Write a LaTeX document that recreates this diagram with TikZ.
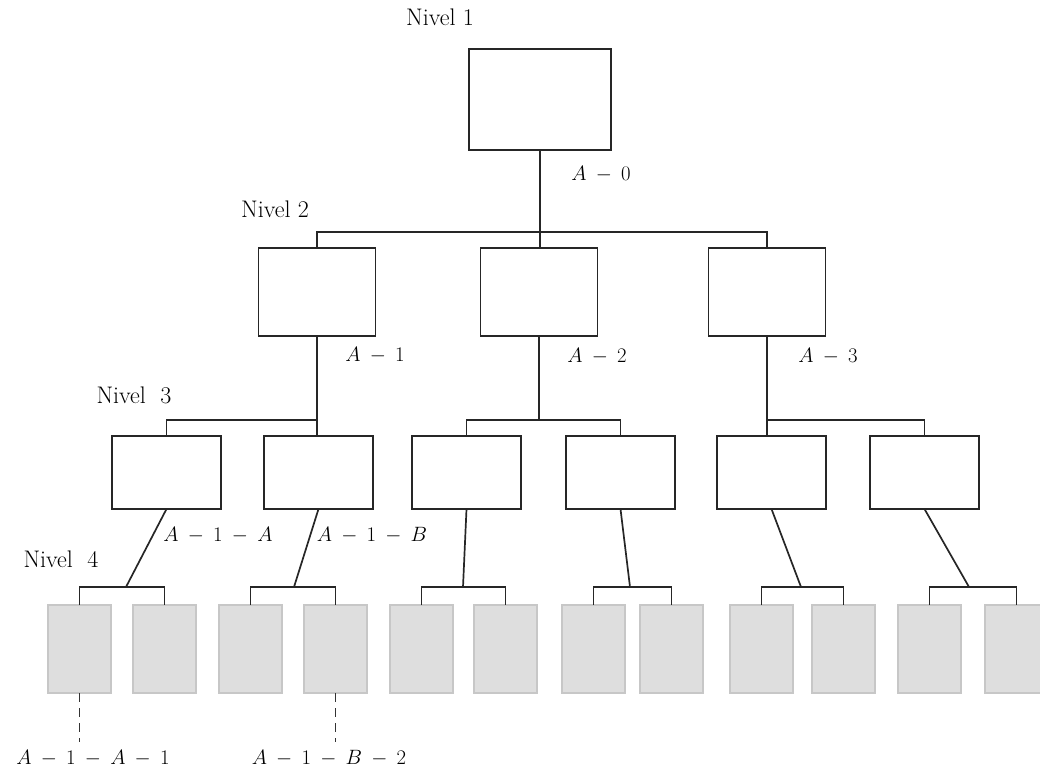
\documentclass[tikz,border=0pt]{standalone}
\newcommand{\mylab}[1]{$\medmuskip=8mu #1$}
\tikzset{
  conn/.style={line width=1.7pt, draw=black!85},
  rbox/.style={draw=black!85, line width=1.7pt, fill=white, rectangle, inner sep=0pt, outer sep=0pt},
  leaf/.style={draw=black!22, line width=1.2pt, fill=black!13, rectangle, inner sep=0pt, outer sep=0pt, minimum width=63pt, minimum height=88pt},
  lbl/.style={inner sep=0pt, font=\fontsize{22}{26}\selectfont},
  lvl/.style={inner sep=0pt, font=\fontsize{24}{28}\selectfont},
  dashline/.style={line width=1.4pt, draw=black!80, dash pattern=on 9pt off 6pt},
}
\begin{document}
\begin{tikzpicture}[x=1pt,y=-1pt]
\useasboundingbox (0,0) rectangle (1040,773);
\clip (0,0) rectangle (1040,773);
% Level 1
\node[rbox, minimum width=142pt, minimum height=101pt] (n1) at (540,99.5) {};
% Level 2
\node[rbox, minimum width=117pt, minimum height=88pt] (n2a) at (317,292) {};
\node[rbox, minimum width=117pt, minimum height=88pt] (n2b) at (539,292) {};
\node[rbox, minimum width=117pt, minimum height=88pt] (n2c) at (767,292) {};
% Level 3
\node[rbox, minimum width=109pt, minimum height=73pt] (n3a) at (166.5,472.5) {};
\node[rbox, minimum width=109pt, minimum height=73pt] (n3b) at (318.5,472.5) {};
\node[rbox, minimum width=109pt, minimum height=73pt] (n3c) at (466.5,472.5) {};
\node[rbox, minimum width=109pt, minimum height=73pt] (n3d) at (620.5,472.5) {};
\node[rbox, minimum width=109pt, minimum height=73pt] (n3e) at (771.5,472.5) {};
\node[rbox, minimum width=109pt, minimum height=73pt] (n3f) at (924.5,472.5) {};
% Level 4
\node[leaf] (l1) at (79.5,649) {};
\node[leaf] (l2) at (164.5,649) {};
\node[leaf] (l3) at (250.5,649) {};
\node[leaf] (l4) at (335.5,649) {};
\node[leaf] (l5) at (421.5,649) {};
\node[leaf] (l6) at (505.5,649) {};
\node[leaf] (l7) at (593.5,649) {};
\node[leaf] (l8) at (671.5,649) {};
\node[leaf] (l9) at (761.5,649) {};
\node[leaf] (l10) at (843.5,649) {};
\node[leaf] (l11) at (929.5,649) {};
\node[leaf] (l12) at (1016.5,649) {};

% bus coordinates
\coordinate (b1) at (540,232);
\coordinate (b2a) at (317,420);
\coordinate (b2b) at (539,420);
\coordinate (b2c) at (767,420);
\coordinate (j1) at (126,587);
\coordinate (j2) at (294,587);
\coordinate (j3) at (463,587);
\coordinate (j4) at (630,587);
\coordinate (j5) at (801,587);
\coordinate (j6) at (969,587);

% Level 1 -> 2
\draw[conn] (n1.south) -- (b1);
\draw[conn] (n2a.north) -- (n2a.north |- b1) -- (n2c.north |- b1) -- (n2c.north);
\draw[conn] (b1) -- (b1 |- n2b.north);
% Level 2 -> 3
\draw[conn] (n2a.south) -- (n3b.north -| b2a);
\draw[conn] (n3a.north) -- (n3a.north |- b2a) -- (b2a);
\draw[conn] (n2b.south) -- (b2b);
\draw[conn] (n3c.north) -- (n3c.north |- b2b) -- (n3d.north |- b2b) -- (n3d.north);
\draw[conn] (n2c.south) -- (n3e.north -| b2c);
\draw[conn] (b2c) -- (n3f.north |- b2c) -- (n3f.north);
% Level 3 -> 4
\draw[conn] (n3a.south) -- (j1);
\draw[conn] (l1.north) -- (l1.north |- j1) -- (l2.north |- j1) -- (l2.north);
\draw[conn] (n3b.south) -- (j2);
\draw[conn] (l3.north) -- (l3.north |- j2) -- (l4.north |- j2) -- (l4.north);
\draw[conn] (n3c.south) -- (j3);
\draw[conn] (l5.north) -- (l5.north |- j3) -- (l6.north |- j3) -- (l6.north);
\draw[conn] (n3d.south) -- (j4);
\draw[conn] (l7.north) -- (l7.north |- j4) -- (l8.north |- j4) -- (l8.north);
\draw[conn] (n3e.south) -- (j5);
\draw[conn] (l9.north) -- (l9.north |- j5) -- (l10.north |- j5) -- (l10.north);
\draw[conn] (n3f.south) -- (j6);
\draw[conn] (l11.north) -- (l11.north |- j6) -- (l12.north |- j6) -- (l12.north);

% Labels
\node[lvl] (nv1) at (440,17) {Nivel 1};
\node[lvl] (nv2) at (275,209) {Nivel 2};
\node[lvl] (nv3) at (134,395) {Nivel\ \ 3};
\node[lvl] (nv4) at (61,559) {Nivel\ \ 4};
\node[lbl] (a0) at (601,174) {\mylab{A-0}};
\node[lbl] (a1) at (375,355) {\mylab{A-1}};
\node[lbl] (a2) at (597,356) {\mylab{A-2}};
\node[lbl] (a3) at (828,356) {\mylab{A-3}};
\node[lbl] (a1a) at (218,535) {\mylab{A-1-A}};
\node[lbl] (a1b) at (372,535) {\mylab{A-1-B}};
\node[lbl] (a1a1) at (93,758) {\mylab{A-1-A-1}};
\node[lbl] (a1b2) at (329,758) {\mylab{A-1-B-2}};

% dashed leaders
\coordinate (d1) at (79.5,742);
\coordinate (d2) at (335.5,742);
\draw[dashline] (l1.south) -- (d1);
\draw[dashline] (l4.south) -- (d2);
\end{tikzpicture}
\end{document}
